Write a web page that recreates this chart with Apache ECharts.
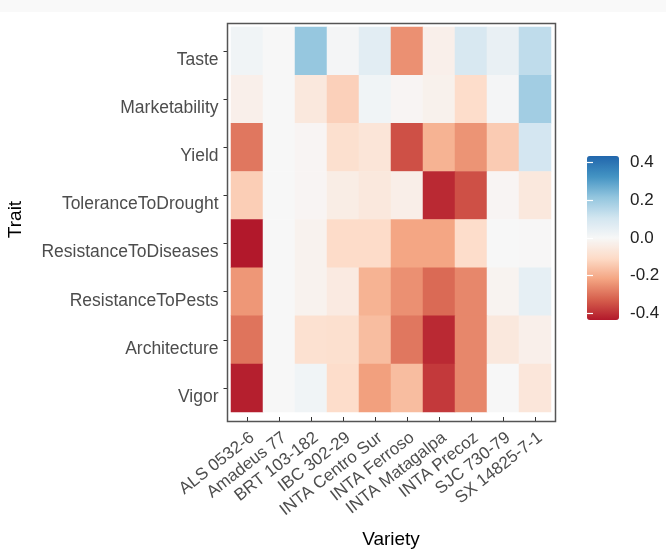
<!DOCTYPE html>
<html><head><meta charset="utf-8">
<script src="https://cdn.jsdelivr.net/npm/echarts@6/dist/echarts.min.js"></script>
<style>html,body{margin:0;padding:0;background:#fff}#c{width:666px;height:554px}</style>
</head><body><div id="c"></div>
<script>
const varieties = ['ALS 0532-6','Amadeus 77','BRT 103-182','IBC 302-29','INTA Centro Sur','INTA Ferroso','INTA Matagalpa','INTA Precoz','SJC 730-79','SX 14825-7-1'];
const traits = ['Taste','Marketability','Yield','ToleranceToDrought','ResistanceToDiseases','ResistanceToPests','Architecture','Vigor'];
const taste                = [ 0.02, 0.00, 0.21, 0.01, 0.06,-0.25,-0.03, 0.09, 0.04, 0.14];
const marketability        = [-0.03, 0.00,-0.06,-0.13, 0.02,-0.01,-0.025,-0.10, 0.01, 0.19];
const yieldVals            = [-0.29, 0.00,-0.01,-0.09,-0.07,-0.35,-0.19,-0.245,-0.14, 0.10];
const toleranceToDrought   = [-0.135,0.00,-0.01,-0.04,-0.06,-0.035,-0.41,-0.35,-0.01,-0.06];
const resistanceToDiseases = [-0.435,0.00,-0.02,-0.105,-0.105,-0.215,-0.215,-0.10, 0.00,-0.003];
const resistanceToPests    = [-0.24, 0.00,-0.02,-0.05,-0.19,-0.25,-0.31,-0.265,-0.015, 0.05];
const architecture         = [-0.295,0.00,-0.085,-0.09,-0.17,-0.29,-0.41,-0.265,-0.06,-0.03];
const vigor                = [-0.425,0.00, 0.02,-0.10,-0.225,-0.17,-0.385,-0.265, 0.00,-0.065];
const rows = [taste, marketability, yieldVals, toleranceToDrought, resistanceToDiseases, resistanceToPests, architecture, vigor];
const legendTicks = [-0.4,-0.2,0,0.2,0.4];
const scaleMin = -0.435, scaleMax = 0.435;
const palette = ['#b2182b','#d6604d','#f4a582','#fddbc7','#f7f7f7','#d1e5f0','#92c5de','#4393c3','#2166ac'];

const data = [];
rows.forEach((r, yi) => r.forEach((v, xi) => data.push([xi, yi, v])));

const FONT = 'Liberation Sans';
const chart = echarts.init(document.getElementById('c'), null, {renderer: 'canvas'});
chart.setOption({
  backgroundColor: '#ffffff',
  animation: false,
  textStyle: {fontFamily: FONT},
  graphic: [
    {type: 'rect', shape: {x: 0, y: 0, width: 666, height: 12}, style: {fill: '#f9f9f9'}, silent: true, z: -10},
    {type: 'rect', shape: {x: 227.5, y: 23.5, width: 328, height: 398}, style: {fill: 'none', stroke: '#555', lineWidth: 1.5}, silent: true, z: 100}
  ],
  grid: [
    {left: 231, right: 115, top: 27, bottom: 138},
    {left: 587, top: 156, width: 32, height: 164}
  ],
  xAxis: [
    {type: 'category', gridIndex: 0, data: varieties, offset: 5,
     name: 'Variety', nameLocation: 'middle', nameGap: 113,
     nameTextStyle: {fontSize: 19, color: '#000', fontFamily: FONT},
     axisLine: {show: false}, splitLine: {show: false},
     axisTick: {show: true, alignWithLabel: true, length: 4, lineStyle: {color: '#333', width: 1}},
     axisLabel: {interval: 0, rotate: 38, margin: 12, verticalAlign: 'top', fontSize: 17, color: '#4d4d4d', fontFamily: FONT}},
    {type: 'value', gridIndex: 1, show: false}
  ],
  yAxis: [
    {type: 'category', gridIndex: 0, data: traits, inverse: true, offset: 3.5,
     name: 'Trait', nameLocation: 'middle', nameGap: 202, nameRotate: 90,
     nameTextStyle: {fontSize: 19, color: '#000', fontFamily: FONT},
     axisLine: {show: false}, splitLine: {show: false},
     axisTick: {show: true, alignWithLabel: true, length: 4, lineStyle: {color: '#333', width: 1}},
     axisLabel: {interval: 0, margin: 9, fontSize: 17.5, color: '#4d4d4d', fontFamily: FONT, verticalAlign: 'top'}},
    {type: 'value', gridIndex: 1, position: 'right', min: scaleMin, max: scaleMax, z: 20,
     axisLine: {show: false}, splitLine: {show: false},
     axisTick: {show: true, inside: true, length: 6, customValues: legendTicks, lineStyle: {color: '#fff', width: 1.2}},
     axisLabel: {show: true, margin: 11, fontSize: 17, color: '#222', fontFamily: FONT, customValues: legendTicks,
       formatter: v => v.toFixed(1)}},
    {type: 'value', gridIndex: 1, position: 'left', min: scaleMin, max: scaleMax, z: 20,
     axisLine: {show: false}, splitLine: {show: false},
     axisTick: {show: true, inside: true, length: 6, customValues: legendTicks, lineStyle: {color: '#fff', width: 1.2}},
     axisLabel: {show: false}}
  ],
  visualMap: {
    type: 'continuous', min: scaleMin, max: scaleMax, calculable: false,
    left: 587, top: 156, itemWidth: 32, itemHeight: 164, padding: 0,
    inRange: {color: palette}, seriesIndex: 0, z: 5
  },
  series: [{
    type: 'heatmap', xAxisIndex: 0, yAxisIndex: 0, data: data,
    itemStyle: {borderWidth: 0},
    emphasis: {disabled: true}
  }]
});
</script></body></html>
